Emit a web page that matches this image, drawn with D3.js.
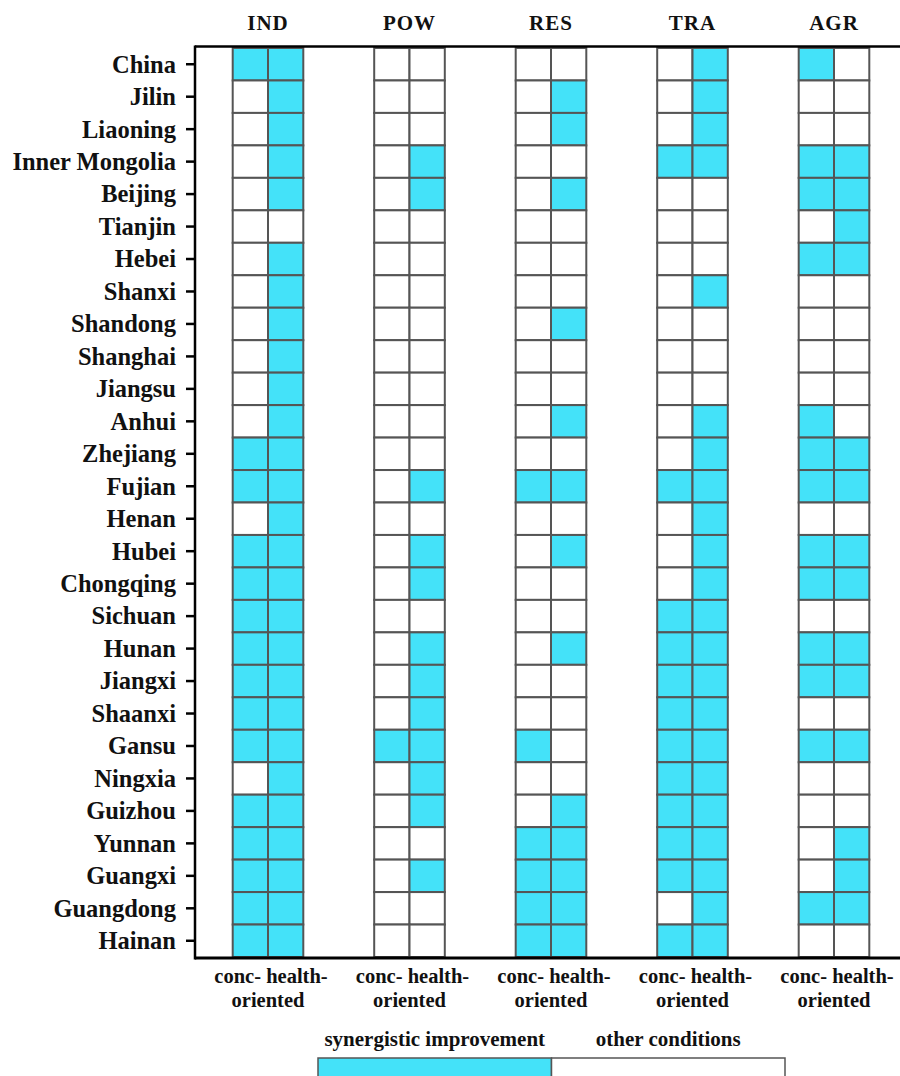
<!DOCTYPE html>
<html>
<head>
<meta charset="utf-8">
<script src="https://cdn.jsdelivr.net/npm/d3@7"></script>
<style>
  html, body { margin: 0; padding: 0; background: #fff; }
  svg { display: block; }
  text { font-family: "Liberation Serif", "Times New Roman", serif; font-weight: bold; fill: #111; }
</style>
</head>
<body>
<svg id="chart" width="900" height="1076"></svg>
<script>
const regions = ["China","Jilin","Liaoning","Inner Mongolia","Beijing","Tianjin","Hebei","Shanxi","Shandong","Shanghai","Jiangsu","Anhui","Zhejiang","Fujian","Henan","Hubei","Chongqing","Sichuan","Hunan","Jiangxi","Shaanxi","Gansu","Ningxia","Guizhou","Yunnan","Guangxi","Guangdong","Hainan"];
const sectors = ["IND","POW","RES","TRA","AGR"];
const targets = ["conc","health"];
const bottomLine1 = "conc- health-";
const bottomLine2 = "oriented";
const legendLabels = ["synergistic improvement","other conditions"];

// 1 = synergistic improvement; pairs are [conc, health]
const IND = [[1,1],[0,1],[0,1],[0,1],[0,1],[0,0],[0,1],[0,1],[0,1],[0,1],[0,1],[0,1],[1,1],[1,1],[0,1],[1,1],[1,1],[1,1],[1,1],[1,1],[1,1],[1,1],[0,1],[1,1],[1,1],[1,1],[1,1],[1,1]];
const POW = [[0,0],[0,0],[0,0],[0,1],[0,1],[0,0],[0,0],[0,0],[0,0],[0,0],[0,0],[0,0],[0,0],[0,1],[0,0],[0,1],[0,1],[0,0],[0,1],[0,1],[0,1],[1,1],[0,1],[0,1],[0,0],[0,1],[0,0],[0,0]];
const RES = [[0,0],[0,1],[0,1],[0,0],[0,1],[0,0],[0,0],[0,0],[0,1],[0,0],[0,0],[0,1],[0,0],[1,1],[0,0],[0,1],[0,0],[0,0],[0,1],[0,0],[0,0],[1,0],[0,0],[0,1],[1,1],[1,1],[1,1],[1,1]];
const TRA = [[0,1],[0,1],[0,1],[1,1],[0,0],[0,0],[0,0],[0,1],[0,0],[0,0],[0,0],[0,1],[0,1],[1,1],[0,1],[0,1],[0,1],[1,1],[1,1],[1,1],[1,1],[1,1],[1,1],[1,1],[1,1],[1,1],[0,1],[1,1]];
const AGR = [[1,0],[0,0],[0,0],[1,1],[1,1],[0,1],[1,1],[0,0],[0,0],[0,0],[0,0],[1,0],[1,1],[1,1],[0,0],[1,1],[1,1],[0,0],[1,1],[1,1],[0,0],[1,1],[0,0],[0,0],[0,1],[0,1],[1,1],[0,0]];

const seriesBySector = {IND, POW, RES, TRA, AGR};

const CYAN = "#44e2f9";
const CELL_STROKE = "#555";

const svg = d3.select("#chart");

const plotLeft = 195, plotTop = 48, plotBottom = 957;

const y = d3.scaleBand().domain(regions).range([plotTop, plotBottom]).padding(0);
const xg = d3.scaleBand().domain(sectors).range([197.25, 904.75]).padding(0);
const xi = d3.scaleBand().domain(targets).range([-35.3, 35.3]).padding(0);

const cells = [];
sectors.forEach(s => {
  seriesBySector[s].forEach((pair, i) => {
    targets.forEach((t, j) => {
      cells.push({sector: s, region: regions[i], target: t, v: pair[j]});
    });
  });
});

svg.append("g").selectAll("rect").data(cells).join("rect")
  .attr("x", d => xg(d.sector) + xg.bandwidth()/2 + xi(d.target))
  .attr("y", d => y(d.region))
  .attr("width", xi.bandwidth())
  .attr("height", y.bandwidth())
  .attr("fill", d => d.v ? CYAN : "#fff")
  .attr("stroke", CELL_STROKE)
  .attr("stroke-width", 2);

// frame lines
svg.append("line").attr("x1", plotLeft).attr("x2", 900).attr("y1", plotTop - 1.5).attr("y2", plotTop - 1.5)
  .attr("stroke", "#000").attr("stroke-width", 2.5);
svg.append("line").attr("x1", plotLeft).attr("x2", 900).attr("y1", plotBottom + 1).attr("y2", plotBottom + 1)
  .attr("stroke", "#000").attr("stroke-width", 3);

// y axis
const yAxis = svg.append("g").attr("transform", `translate(${plotLeft},0)`)
  .call(d3.axisLeft(y).tickSize(9).tickPadding(10));
yAxis.select(".domain").attr("stroke", "#000").attr("stroke-width", 2.5)
  .attr("d", `M0,${plotTop - 2.5}V${plotBottom + 2.5}`);
yAxis.selectAll(".tick line").attr("stroke", "#000").attr("stroke-width", 2.5);
yAxis.selectAll(".tick text").attr("font-size", 24.5).attr("fill", "#111").attr("dy", "0.34em")
  .attr("font-family", "Liberation Serif, Times New Roman, serif").attr("font-weight", "bold");

// top headers
svg.append("g").selectAll("text").data(sectors).join("text")
  .attr("x", d => xg(d) + xg.bandwidth()/2)
  .attr("y", 30)
  .attr("text-anchor", "middle")
  .attr("font-size", 21)
  .attr("letter-spacing", 1)
  .text(d => d);

// bottom labels
const bl = svg.append("g").selectAll("g").data(sectors).join("g")
  .attr("transform", d => `translate(${xg(d) + xg.bandwidth()/2},0)`);
bl.append("text").attr("x", 3).attr("y", 983).attr("text-anchor", "middle").attr("font-size", 20.5).text(bottomLine1);
bl.append("text").attr("x", 0).attr("y", 1007).attr("text-anchor", "middle").attr("font-size", 20.5).text(bottomLine2);

// legend
const lx = d3.scaleBand().domain(legendLabels).range([318, 785]).padding(0);
const lg = svg.append("g");
lg.selectAll("text").data(legendLabels).join("text")
  .attr("x", d => lx(d) + lx.bandwidth()/2)
  .attr("y", 1046)
  .attr("text-anchor", "middle")
  .attr("font-size", 21)
  .text(d => d);
lg.selectAll("rect").data(legendLabels).join("rect")
  .attr("x", d => lx(d))
  .attr("y", 1058)
  .attr("width", lx.bandwidth())
  .attr("height", 30)
  .attr("fill", (d, i) => i === 0 ? CYAN : "#fff")
  .attr("stroke", CELL_STROKE)
  .attr("stroke-width", 1.5);
</script>
</body>
</html>
